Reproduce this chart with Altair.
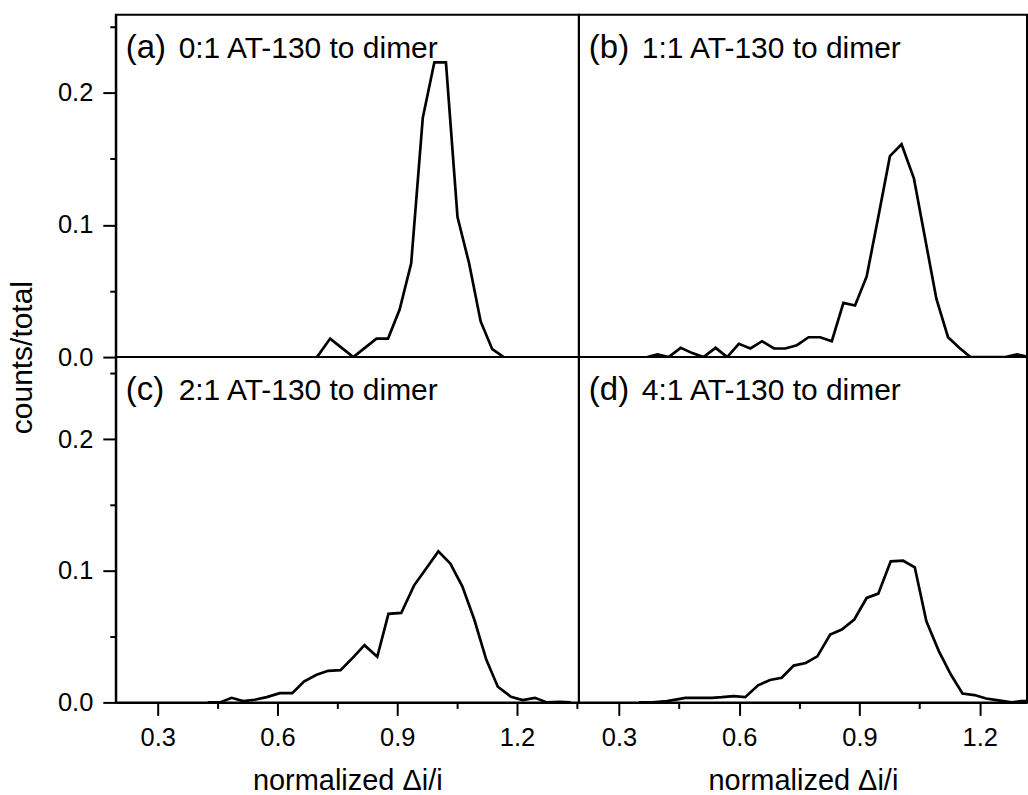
import altair as alt
import pandas as pd

# ---- data ----
xa = [0.699, 0.732, 0.761, 0.790, 0.819, 0.848, 0.877, 0.906, 0.935, 0.964, 0.993, 1.022, 1.051, 1.080, 1.109, 1.138, 1.167]
ya = [0, 0.014, 0.007, 0, 0.007, 0.014, 0.014, 0.036, 0.071, 0.181, 0.223, 0.223, 0.106, 0.071, 0.027, 0.006, 0]

xb = [0.371, 0.396, 0.424, 0.454, 0.483, 0.511, 0.541, 0.570, 0.599, 0.628, 0.657, 0.687, 0.715, 0.744, 0.773, 0.802, 0.831,
      0.860, 0.889, 0.918, 0.947, 0.976, 1.005, 1.036, 1.063, 1.092, 1.121, 1.149, 1.177, 1.206, 1.235, 1.264, 1.293, 1.322]
yb = [0, 0.002, 0, 0.007, 0.003, 0, 0.007, 0, 0.010, 0.0065, 0.012, 0.0065, 0.0065, 0.009, 0.015, 0.015, 0.012,
      0.041, 0.039, 0.061, 0.106, 0.152, 0.161, 0.135, 0.091, 0.044, 0.015, 0.007, 0, 0, 0, 0, 0.002, 0]

xc = [0.425, 0.456, 0.485, 0.514, 0.543, 0.573, 0.606, 0.637, 0.667, 0.698, 0.727, 0.758, 0.789, 0.818, 0.850, 0.878,
      0.910, 0.942, 0.973, 1.003, 1.033, 1.063, 1.093, 1.123, 1.152, 1.185, 1.214, 1.245, 1.275, 1.306, 1.335]
yc = [0, 0, 0.0035, 0.001, 0.002, 0.004, 0.007, 0.007, 0.016, 0.021, 0.024, 0.0245, 0.034, 0.0435, 0.0347, 0.0673,
      0.068, 0.0888, 0.102, 0.1148, 0.1055, 0.0883, 0.063, 0.0326, 0.0119, 0.0043, 0.0018, 0.0035, 0, 0.0005, 0]

xd = [0.350, 0.383, 0.420, 0.466, 0.499, 0.532, 0.557, 0.586, 0.615, 0.647, 0.677, 0.706, 0.736, 0.766, 0.795, 0.827,
      0.856, 0.887, 0.918, 0.947, 0.978, 1.009, 1.038, 1.067, 1.098, 1.128, 1.157, 1.187, 1.216, 1.247, 1.279, 1.303, 1.320]
yd = [0, 0, 0.001, 0.0035, 0.0035, 0.0035, 0.004, 0.0048, 0.004, 0.013, 0.017, 0.0187, 0.028, 0.030, 0.035, 0.0516,
      0.0554, 0.063, 0.0794, 0.0827, 0.1072, 0.1077, 0.1027, 0.0617, 0.039, 0.0212, 0.0068, 0.0056, 0.003, 0.0015, 0, 0.001, 0.001]

panel_tags = ["(a)", "(b)", "(c)", "(d)"]
panel_texts = ["0:1 AT-130 to dimer", "1:1 AT-130 to dimer", "2:1 AT-130 to dimer", "4:1 AT-130 to dimer"]

x_ticks = [0.3, 0.45, 0.6, 0.75, 0.9, 1.05, 1.2, 1.35]
y_ticks = [0.0, 0.05, 0.1, 0.15, 0.2, 0.25]

FONT = "Liberation Sans"

x_major = "abs(datum.value/0.3 - round(datum.value/0.3)) < 0.001"
y_major = "abs(datum.value*10 - round(datum.value*10)) < 0.001"


def panel(xs, ys, tag, text, xdom, ydom, width, height, show_x, show_y, ytitle=False):
    df = pd.DataFrame({"x": xs, "y": ys})
    if show_x:
        xaxis = alt.Axis(
            values=x_ticks,
            labelExpr=f"{x_major} ? format(datum.value, '.1f') : ''",
            tickSize={"condition": {"test": x_major, "value": 13}, "value": 6},
            title="normalized \u0394i/i",
            titleFontSize=29,
            titleFontWeight="normal",
            titlePadding=16,
            labelPadding=10,
            grid=False,
        )
    else:
        xaxis = None
    if show_y:
        kw = dict(
            values=y_ticks,
            labelExpr=f"{y_major} ? format(datum.value, '.1f') : ''",
            tickSize={"condition": {"test": y_major, "value": 13}, "value": 6},
            labelPadding=10,
            grid=False,
        )
        if ytitle:
            kw.update(title="counts/total", titleFontSize=30, titleFontWeight="normal",
                      titleY=height, titleAlign="center", titleAngle=270, titlePadding=20)
        else:
            kw.update(title=None)
        yaxis = alt.Axis(**kw)
    else:
        yaxis = None

    line = alt.Chart(df).mark_line(color="black", strokeWidth=2.7, clip=True).encode(
        x=alt.X("x:Q", scale=alt.Scale(domain=xdom, nice=False, zero=False), axis=xaxis),
        y=alt.Y("y:Q", scale=alt.Scale(domain=ydom, nice=False), axis=yaxis),
    )
    lab = alt.Chart(pd.DataFrame({"t": [tag]})).mark_text(
        font=FONT, fontSize=33, align="left", baseline="alphabetic", color="black"
    ).encode(text="t:N", x=alt.value(10), y=alt.value(43))
    txt = alt.Chart(pd.DataFrame({"t": [text]})).mark_text(
        font=FONT, fontSize=30, align="left", baseline="alphabetic", color="black"
    ).encode(text="t:N", x=alt.value(63), y=alt.value(43))
    return alt.layer(line, lab, txt).properties(width=width, height=height)


L_DOM = [0.195, 1.355]
R_DOM = [0.2, 1.318]
pa = panel(xa, ya, panel_tags[0], panel_texts[0], L_DOM, [0, 0.259], 464, 343, False, True, ytitle=True)
pb = panel(xb, yb, panel_tags[1], panel_texts[1], R_DOM, [0, 0.259], 449, 343, False, False)
pc = panel(xc, yc, panel_tags[2], panel_texts[2], L_DOM, [0, 0.2625], 464, 346, True, True)
pd_ = panel(xd, yd, panel_tags[3], panel_texts[3], R_DOM, [0, 0.2625], 449, 346, True, False)

chart = alt.concat(pa, pb, pc, pd_, columns=2, spacing=0, bounds="flush").properties(
    padding={"left": 6, "top": 13, "right": 0, "bottom": 0},
    background="white",
).configure_view(
    stroke="black", strokeWidth=2
).configure_axis(
    domainColor="black", domainWidth=2, tickColor="black", tickWidth=2,
    labelFont=FONT, labelFontSize=25.5, labelColor="black",
    titleFont=FONT, titleColor="black",
)

chart.save("out.html", embed_options={"renderer": "svg", "actions": False})
